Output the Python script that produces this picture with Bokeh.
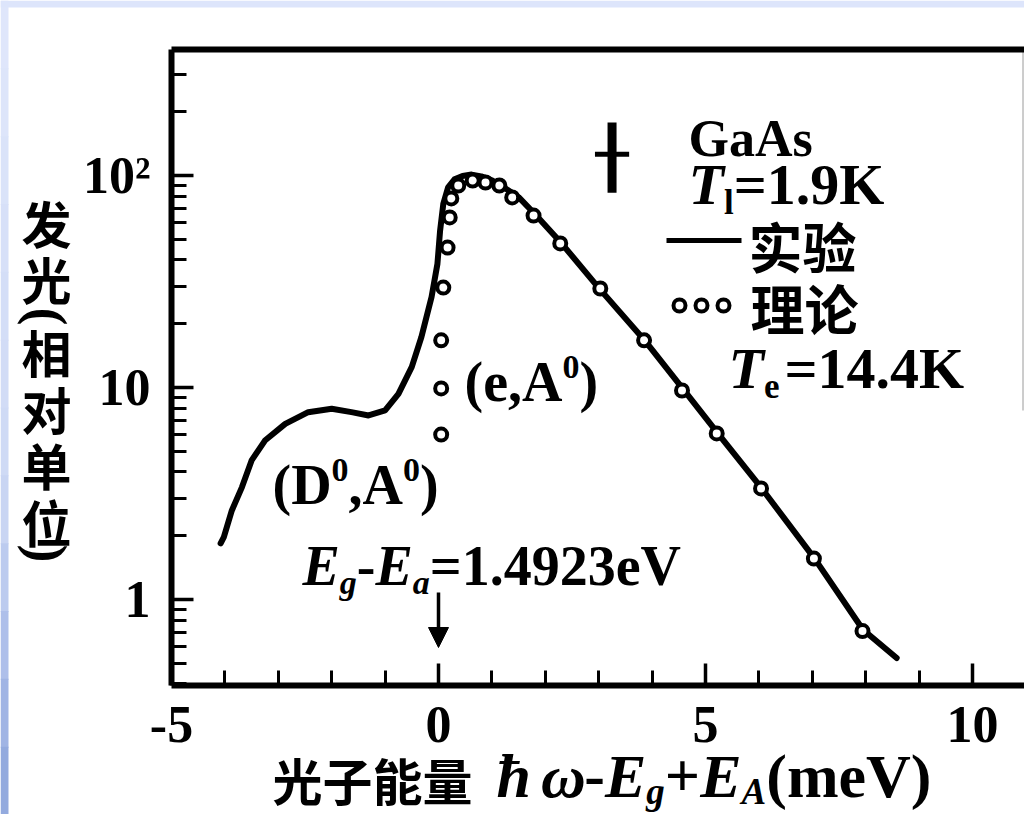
import math

from bokeh.embed import file_html
from bokeh.models import (Arrow, BoxAnnotation, FixedTicker, Label, LinearAxis,
                          LogAxis, LogScale, NormalHead, Range1d)
from bokeh.plotting import figure
from bokeh.resources import INLINE

# ---- measured luminescence (solid curve) ----
exp_energy = [-4.08, -4.02, -3.87, -3.68, -3.50, -3.25, -2.87, -2.44, -2.00,
              -1.63, -1.31, -1.00, -0.75, -0.50, -0.32, -0.13, -0.02, 0.03,
              0.09, 0.18, 0.30, 0.45, 0.62, 0.80, 1.00, 1.25, 1.50, 1.80,
              2.30, 3.00, 3.85, 4.60, 5.25, 6.05, 7.05, 7.95, 8.58]
exp_intensity = [1.84, 1.97, 2.63, 3.39, 4.53, 5.62, 6.74, 7.65, 7.94,
                 7.65, 7.38, 7.79, 9.33, 12.5, 17.3, 26.7, 38.3, 55.0,
                 73.5, 88.0, 96.0, 99.5, 101.0, 99.0, 95.0, 87.0, 79.0, 66.0,
                 48.0, 29.5, 16.8, 9.7, 6.0, 3.35, 1.55, 0.72, 0.53]

# ---- calculated (e,A0) line shape, T_e = 14.4 K (open circles) ----
th_energy = [0.05, 0.05, 0.05, 0.09, 0.17, 0.21, 0.24, 0.37, 0.64, 0.88,
             1.14, 1.38, 1.78, 2.28, 3.03, 3.85, 4.56, 5.21, 6.04, 7.03, 7.94]
th_intensity = [6.0, 9.9, 16.7, 29.6, 45.7, 63.4, 78.0, 89.7, 94.7, 92.7,
                89.7, 78.8, 64.7, 47.8, 29.3, 16.7, 9.68, 6.07, 3.34, 1.56, 0.71]

# spectral resolution marker
res_energy = 3.25
res_half_width = 0.32
res_low, res_mid, res_high = 83.0, 126.0, 178.0

# Eg - Ea position (arrow)
edge_energy = 0.0

# axes
x_ticks = [-5, 0, 5, 10]
x_tick_labels = {-5: "-5", 0: "0", 5: "5", 10: "10"}
x_minor_ticks = [-4, -3, -2, -1, 1, 2, 3, 4, 6, 7, 8, 9]
y_ticks = [1, 10, 100]
y_tick_labels = {1: "1", 10: "10", 100: "10²"}
y_minor_ticks = [0.4, 0.5, 0.6, 0.7, 0.8, 0.9,
                 2, 3, 4, 5, 6, 7, 8, 9,
                 20, 30, 40, 50, 60, 70, 80, 90,
                 200, 300]

# ---- page geometry: the frame fills the page, axes sit at fixed places ----
W, H = 1024, 814
ZERO_PX, PX_PER_MEV = 438.0, 53.4       # column of 0 meV
Y100_PX, PX_PER_DECADE = 175.0, 212.0   # row of intensity 100
X_START = -ZERO_PX / PX_PER_MEV
X_END = (W - ZERO_PX) / PX_PER_MEV
Y_TOP = 10 ** (2 + Y100_PX / PX_PER_DECADE)
Y_BOTTOM = 10 ** (2 - (H - Y100_PX) / PX_PER_DECADE)

SERIF = "Liberation Serif"
CJK = "Noto Sans CJK SC"


def dx(px):
    return (px - ZERO_PX) / PX_PER_MEV


def dy(py):
    return 10 ** (2 - (py - Y100_PX) / PX_PER_DECADE)


AX_LEFT = -5.0
AX_BOTTOM = dy(685)
AX_TOP = dy(49)

p = figure(width=W, height=H,
           x_range=Range1d(X_START, X_END), y_range=Range1d(Y_BOTTOM, Y_TOP),
           x_axis_type=None, y_axis_type=None,
           output_backend="svg", toolbar_location=None,
           min_border=0, min_border_left=0, min_border_right=0,
           min_border_top=0, min_border_bottom=0)
p.y_scale = LogScale()
p.outline_line_color = None
p.grid.visible = False
p.background_fill_color = "white"
p.border_fill_color = "white"

# slide background strips around the scanned figure
left_strip = ["#dfe6fb", "#dde5fa", "#dae3f9", "#d7e0f8", "#d4def7", "#d2dcf6",
              "#cfdaf5", "#c9d5f3", "#bccbef", "#aebfea", "#a0b4e4", "#93aade"]
step = H / len(left_strip)
for i, c in enumerate(left_strip):
    p.add_layout(BoxAnnotation(left=dx(0), right=dx(8),
                               top=dy(i * step), bottom=dy((i + 1) * step + 1),
                               fill_color=c, fill_alpha=1, line_color=None,
                               level="underlay"))
p.add_layout(BoxAnnotation(left=dx(0), right=dx(W), top=dy(0), bottom=dy(7),
                           fill_color="#dde5fb", fill_alpha=1, line_color=None,
                           level="underlay"))
# faint right edge of the scan
p.segment(x0=[dx(1022.5)], y0=[dy(50)], x1=[dx(1022.5)], y1=[dy(410)],
          line_width=1, line_color="#9a9a9a")

# bottom axis
xa = LinearAxis(fixed_location=AX_BOTTOM, bounds=(AX_LEFT, X_END))
xa.ticker = FixedTicker(ticks=x_ticks, minor_ticks=x_minor_ticks)
xa.major_label_overrides = x_tick_labels
xa.axis_line_width = 6
xa.major_tick_in, xa.major_tick_out = 22, 0
xa.minor_tick_in, xa.minor_tick_out = 15, 0
xa.major_tick_line_width = 3.5
xa.minor_tick_line_width = 3
xa.major_label_text_font = SERIF
xa.major_label_text_font_style = "bold"
xa.major_label_text_font_size = "52px"
xa.major_label_text_color = "black"
xa.major_label_standoff = 21
p.add_layout(xa, "below")

# left axis
ya = LogAxis(fixed_location=AX_LEFT, bounds=(AX_BOTTOM, AX_TOP))
ya.ticker = FixedTicker(ticks=y_ticks, minor_ticks=y_minor_ticks)
ya.major_label_overrides = y_tick_labels
ya.axis_line_width = 6
ya.major_tick_in, ya.major_tick_out = 22, 0
ya.minor_tick_in, ya.minor_tick_out = 15, 0
ya.major_tick_line_width = 3.5
ya.minor_tick_line_width = 3
ya.major_label_text_font = SERIF
ya.major_label_text_font_style = "bold"
ya.major_label_text_font_size = "52px"
ya.major_label_text_color = "black"
ya.major_label_standoff = 21
p.add_layout(ya, "left")

# top frame line (an axis without ticks or labels)
top = LinearAxis(fixed_location=AX_TOP, bounds=(AX_LEFT, X_END),
                 ticker=FixedTicker(ticks=[], minor_ticks=[]),
                 major_tick_in=0, major_tick_out=0, minor_tick_in=0,
                 minor_tick_out=0, axis_line_width=6)
p.add_layout(top, "above")

# data
p.line(exp_energy, exp_intensity, line_width=6, line_color="black",
       line_join="round", line_cap="round")
p.scatter(th_energy, th_intensity, marker="circle", size=12, line_width=4,
          line_color="black", fill_color="white")

# resolution marker
p.segment(x0=[res_energy, res_energy - res_half_width],
          y0=[res_low, res_mid],
          x1=[res_energy, res_energy + res_half_width],
          y1=[res_high, res_mid],
          line_width=[9, 5], line_color="black")

# legend keys
p.segment(x0=[dx(666)], y0=[dy(240)], x1=[dx(741)], y1=[dy(240)],
          line_width=5, line_color="black")
p.scatter(x=[dx(679), dx(701), dx(723)], y=[dy(305)] * 3, marker="circle",
          size=12, line_width=4, line_color="black", fill_color="white")

# arrow at Eg - Ea
p.add_layout(Arrow(x_start=edge_energy, y_start=dy(592),
                   x_end=edge_energy, y_end=dy(647),
                   line_width=3.5, line_color="black",
                   end=NormalHead(size=20, fill_color="black",
                                  line_color="black")))

# ---- text ----
WIDTHS = {
    "b": {"(": 333, ")": 333, ",": 250, "-": 333, ".": 250,
          "=": 570, "+": 570, "A": 722, "D": 722, "E": 667, "G": 778,
          "K": 778, "T": 667, "V": 722, "a": 500, "e": 444, "g": 500,
          "l": 278, "m": 833, "s": 389},
    "bi": {"E": 667, "T": 611, "g": 500, "a": 500, "A": 667, "e": 444,
           "ħ": 556, "ω": 700},
}
STYLE = {"b": ("bold", SERIF), "bi": ("bold italic", SERIF),
         "cjk": ("bold", CJK)}


def text_width(txt, kind, size):
    if kind == "cjk":
        return size * len(txt)
    return sum(WIDTHS[kind].get(ch, 500) for ch in txt) * size / 1000.0


def text_run(pieces, x, base):
    """Lay out runs of differently styled text along one baseline.

    A piece of kind "gap" only moves the pen by `size` pixels.
    """
    for txt, kind, size, rise in pieces:
        if kind == "gap":
            x += size
            continue
        style, font = STYLE[kind]
        yb = base - rise - 0.357 * size
        p.add_layout(Label(x=dx(x), y=dy(yb), text=txt,
                           text_font=font, text_font_style=style,
                           text_font_size=f"{size}px", text_color="black",
                           text_align="left", text_baseline="alphabetic"))
        x += text_width(txt, kind, size)


FS, SS = 56, 34
text_run([("GaAs", "b", 52, 0)], 688, 157)
text_run([("T", "bi", 58, 0), ("l", "b", 35, -9), ("=1.9K", "b", 58, 0)],
         688, 205)
text_run([("实验", "cjk", 54, 0)], 748, 264)
text_run([("理论", "cjk", 54, 0)], 750, 326)
text_run([("T", "bi", 58, 0), ("e", "b", 35, -9), ("", "gap", 5, 0),
          ("=14.4K", "b", 58, 0)], 728, 389)
text_run([("(e,A", "b", FS, 0), ("0", "b", SS, 22), (")", "b", FS, 0)],
         464, 401)
text_run([("(D", "b", FS, 0), ("0", "b", SS, 22), (",A", "b", FS, 0),
          ("0", "b", SS, 22), (")", "b", FS, 0)], 272, 504)
text_run([("E", "bi", FS, 0), ("g", "bi", SS, -9), ("-", "b", FS, 0),
          ("E", "bi", FS, 0), ("a", "bi", SS, -9),
          ("=1.4923eV", "b", FS, 0)], 302, 585)

# x-axis title
XF, XS = 62, 37
text_run([("光子能量", "cjk", 50, 0)], 272, 796)
text_run([("ħ", "bi", XF, 0), ("", "gap", 10, 0), ("ω", "bi", XF, 0),
          ("-", "b", XF, 0), ("E", "bi", XF, 0), ("g", "bi", XS, -6),
          ("+", "b", XF, 0), ("E", "bi", XF, 0), ("A", "bi", XS, -6),
          ("(meV)", "b", XF, 0)], 496, 798)

# y-axis title, stacked vertically; brackets turned to open downward/upward
for ch, cy in zip("发光", [221, 277]):
    p.add_layout(Label(x=dx(46), y=dy(cy), text=ch, text_font=CJK,
                       text_font_style="bold", text_font_size="50px",
                       text_color="black", text_align="center",
                       text_baseline="middle"))
for ch, cy in zip("相对单位", [350, 407, 463, 520]):
    p.add_layout(Label(x=dx(46), y=dy(cy), text=ch, text_font=CJK,
                       text_font_style="bold", text_font_size="50px",
                       text_color="black", text_align="center",
                       text_baseline="middle"))
for ch, cy in zip("()", [316, 553]):
    p.add_layout(Label(x=dx(46), y=dy(cy), text=ch, text_font=SERIF,
                       text_font_style="bold", text_font_size="54px",
                       text_color="black", text_align="center",
                       text_baseline="middle", angle=-math.pi / 2))

open("out.html", "w").write(file_html(p, INLINE))
